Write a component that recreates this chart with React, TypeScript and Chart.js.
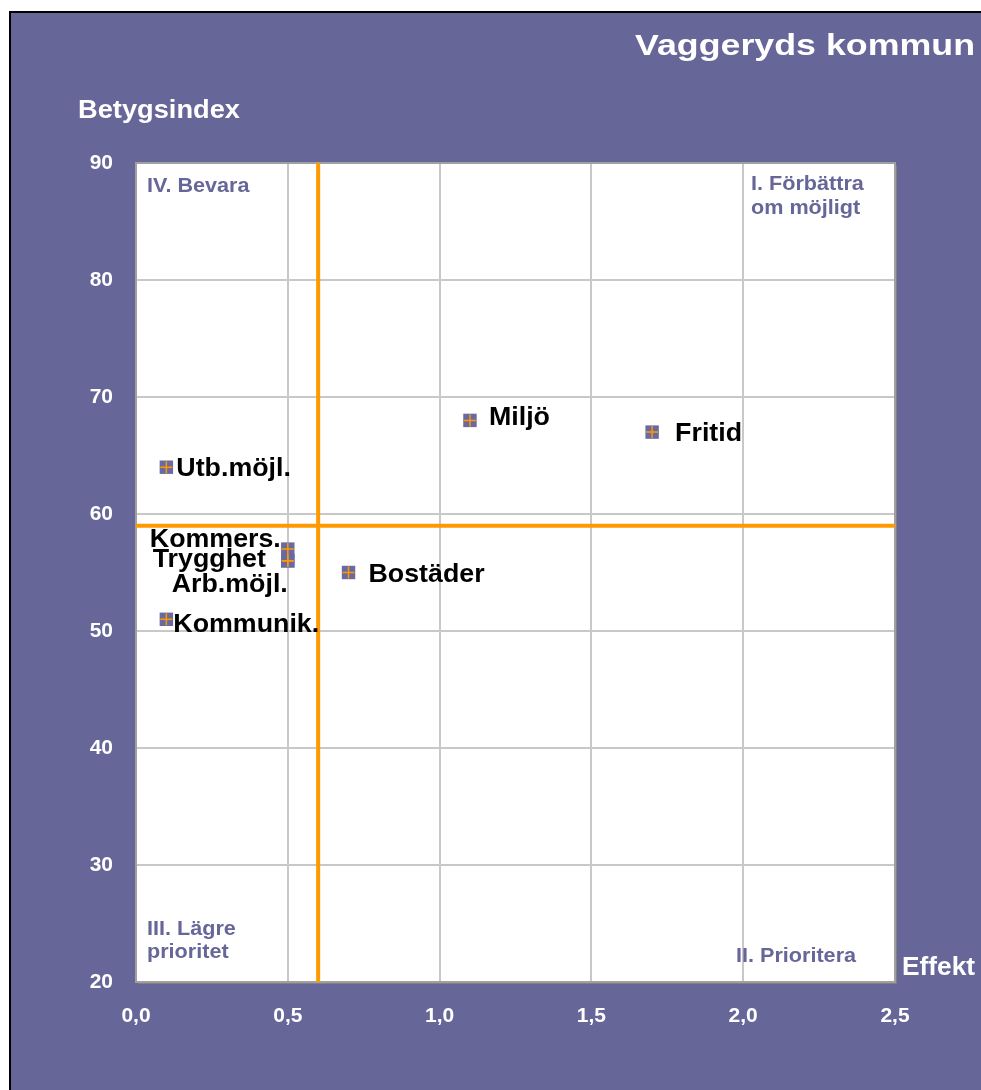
import React, { useEffect, useRef } from "react";
import { Chart, registerables } from "chart.js";

Chart.register(...registerables);

// ---- Data ----
const CATEGORIES = ["Utb.möjl.", "Kommers.", "Trygghet", "Arb.möjl.", "Kommunik.", "Bostäder", "Miljö", "Fritid"];
const EFFEKT = [0.1, 0.5, 0.5, 0.5, 0.1, 0.7, 1.1, 1.7];
const BETYGSINDEX = [64, 57, 56, 56, 51, 55, 68, 67];
const X_TICK_LABELS = ["0,0", "0,5", "1,0", "1,5", "2,0", "2,5"];
const Y_TICK_LABELS = ["20", "30", "40", "50", "60", "70", "80", "90"];
const REF_EFFEKT = 0.6;
const REF_BETYG = 59;
const TITLE = "Vaggeryds kommun";
const Y_TITLE = "Betygsindex";
const X_TITLE = "Effekt";

// label placement relative to the marker (layout only)
const LABEL_PLACE = [
  { dx: 10, dy: 9, align: "left" },
  { dx: -7, dy: -2, align: "right" },
  { dx: -22, dy: 6, align: "right" },
  { dx: 0, dy: 31, align: "right" },
  { dx: 7, dy: 13, align: "left" },
  { dx: 20, dy: 9, align: "left" },
  { dx: 19, dy: 5, align: "left" },
  { dx: 23, dy: 9, align: "left" },
];

const BG = "#666699";
const ORANGE = "#ff9900";
const FONT = 'Arial, "Liberation Sans", sans-serif';

function drawText(ctx: CanvasRenderingContext2D, s: string, x: number, y: number, size: number, sx: number, color: string, align = "left", fitWidth?: number) {
  ctx.save();
  ctx.font = `bold ${size}px ${FONT}`;
  ctx.fillStyle = color;
  ctx.textBaseline = "alphabetic";
  ctx.textAlign = "left";
  const nat = ctx.measureText(s).width;
  const scale = fitWidth ? fitWidth / nat : sx;
  const w = nat * scale;
  const left = align === "right" ? x - w : align === "center" ? x - w / 2 : x;
  ctx.translate(left, y);
  ctx.scale(scale, 1);
  ctx.fillText(s, 0, 0);
  ctx.restore();
}

const decorPlugin = {
  id: "decor",
  beforeDraw(chart: any) {
    const { ctx, chartArea: a } = chart;
    ctx.save();
    ctx.fillStyle = "#ffffff";
    ctx.fillRect(a.left, a.top, a.right - a.left, a.bottom - a.top);
    ctx.restore();
  },
  beforeDatasetsDraw(chart: any) {
    const { ctx, chartArea: a, scales } = chart;
    ctx.save();
    // plot border
    ctx.strokeStyle = "#a0a0a0";
    ctx.lineWidth = 2;
    ctx.strokeRect(a.left, a.top, a.right - a.left, a.bottom - a.top);
    ctx.strokeStyle = "#808080";
    ctx.lineWidth = 1;
    ctx.beginPath();
    ctx.moveTo(a.left + 2, a.bottom + 1.5);
    ctx.lineTo(a.right + 1.5, a.bottom + 1.5);
    ctx.lineTo(a.right + 1.5, a.top + 2);
    ctx.stroke();
    // reference lines
    const xp = scales.x.getPixelForValue(REF_EFFEKT);
    const yp = scales.y.getPixelForValue(REF_BETYG);
    ctx.strokeStyle = ORANGE;
    ctx.lineWidth = 4;
    ctx.beginPath();
    ctx.moveTo(xp, a.top);
    ctx.lineTo(xp, a.bottom);
    ctx.moveTo(a.left, yp);
    ctx.lineTo(a.right, yp);
    ctx.stroke();
    ctx.restore();
  },
  afterDraw(chart: any) {
    const { ctx, chartArea: a, scales } = chart;
    // point labels
    CATEGORIES.forEach((name, i) => {
      const px = scales.x.getPixelForValue(EFFEKT[i]);
      const py = scales.y.getPixelForValue(BETYGSINDEX[i]);
      const p = LABEL_PLACE[i];
      drawText(ctx, name, px + p.dx, py + p.dy, 26, 1.03, "#000000", p.align);
    });
    // quadrant labels
    const q = "#666699";
    drawText(ctx, "IV. Bevara", a.left + 11, a.top + 29, 20, 1.08, q);
    drawText(ctx, "I. Förbättra", a.right - 144, a.top + 27, 20, 1.08, q);
    drawText(ctx, "om möjligt", a.right - 144, a.top + 51, 20, 1.08, q);
    drawText(ctx, "III. Lägre", a.left + 11, a.bottom - 47, 20, 1.08, q);
    drawText(ctx, "prioritet", a.left + 11, a.bottom - 24, 20, 1.08, q);
    drawText(ctx, "II. Prioritera", a.right - 159, a.bottom - 20, 20, 1.08, q);
    // titles
    drawText(ctx, TITLE, 635, 55, 30, 1, "#ffffff", "left", 340);
    drawText(ctx, Y_TITLE, 78, 118, 26, 1, "#ffffff", "left", 162);
    drawText(ctx, X_TITLE, 902, 975, 26, 1, "#ffffff", "left", 73);
  },
};

export default function App() {
  const ref = useRef<HTMLCanvasElement | null>(null);

  useEffect(() => {
    if (!ref.current) return;
    const points = EFFEKT.map((x, i) => ({ x, y: BETYGSINDEX[i] }));
    const chart = new Chart(ref.current, {
      type: "scatter",
      data: {
        datasets: [
          {
            label: "Betyg",
            data: points,
            order: 1,
            pointStyle: "rect",
            pointRadius: 9.5,
            pointHoverRadius: 9.5,
            backgroundColor: "#6a6aa2",
            borderColor: "#6a6aa2",
            borderWidth: 0,
          },
          {
            label: "Kors",
            data: points,
            order: 0,
            pointStyle: "cross",
            pointRadius: 6,
            pointHoverRadius: 6,
            borderColor: ORANGE,
            backgroundColor: ORANGE,
            borderWidth: 1.5,
          },
        ],
      },
      options: {
        responsive: false,
        animation: false,
        devicePixelRatio: 1,
        layout: { padding: { top: 163, right: 86, bottom: 0, left: 0 } },
        plugins: { legend: { display: false }, tooltip: { enabled: false }, title: { display: false } },
        scales: {
          x: {
            type: "linear",
            min: 0,
            max: 2.5,
            afterFit: (s: any) => { s.height = 108; },
            ticks: {
              stepSize: 0.5,
              color: "#ffffff",
              font: { family: FONT, size: 21, weight: "bold" },
              padding: 22,
              maxRotation: 0,
              callback: (_v: any, i: number) => X_TICK_LABELS[i],
            },
            grid: { color: "#c8c8c8", lineWidth: 2, drawTicks: false },
            border: { display: false },
          },
          y: {
            type: "linear",
            min: 20,
            max: 90,
            afterFit: (s: any) => { s.width = 136; },
            ticks: {
              stepSize: 10,
              color: "#ffffff",
              font: { family: FONT, size: 21, weight: "bold" },
              padding: 23,
              callback: (_v: any, i: number) => Y_TICK_LABELS[i],
            },
            grid: { color: "#c8c8c8", lineWidth: 2, drawTicks: false },
            border: { display: false },
          },
        },
      },
      plugins: [decorPlugin],
    } as any);
    return () => chart.destroy();
  }, []);

  return (
    <div style={{ position: "absolute", left: 0, top: 0, width: 981, height: 1090, background: "#ffffff", overflow: "hidden" }}>
      <div
        style={{
          position: "absolute",
          left: 9,
          top: 11,
          right: 0,
          bottom: 0,
          background: BG,
          borderLeft: "2px solid #000",
          borderTop: "2px solid #000",
        }}
      />
      <canvas ref={ref} width={981} height={1090} style={{ position: "absolute", left: 0, top: 0, display: "block" }} />
    </div>
  );
}
